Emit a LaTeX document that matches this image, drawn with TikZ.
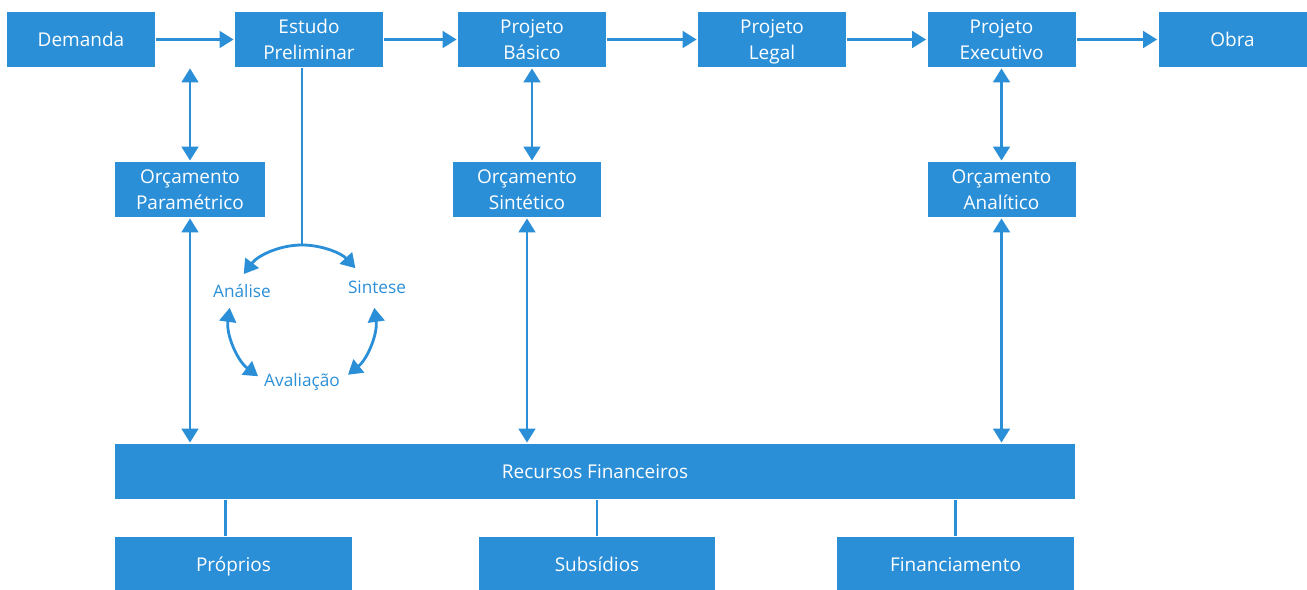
\documentclass[tikz,border=0pt]{standalone}
\usepackage{fontspec}
\setmainfont{Open Sans}
\usetikzlibrary{arrows.meta,positioning,calc}
\definecolor{azul}{HTML}{2B8FD8}
\newcommand{\lin}[1]{\rule[-3.25pt]{0pt}{14.5pt}#1}

\begin{document}
\begin{tikzpicture}[x=0.02cm, y=0.02cm, >={Triangle[length=8pt,width=9.5pt]},
       line width=1.6pt, draw=azul,
       caixa/.style={fill=azul, text=white, minimum width=2.96cm, minimum height=1.1cm,
                     inner sep=0pt, align=center, font=\fontsize{10.8}{14.5}\selectfont},
       rotulo/.style={text=azul, inner sep=1pt, font=\fontsize{9.8}{12}\selectfont}]
      \useasboundingbox (0,0) rectangle (1307,-590);
      \clip (0,0) rectangle (1307,-590);
      % etapas
      \node[caixa] (dem) at (81, -39.5)    {\lin{Demanda}};
      \node[caixa] (est) at (309, -39.5)   {\lin{Estudo}\\\lin{Preliminar}};
      \node[caixa] (bas) at (532, -39.5)   {\lin{Projeto}\\\lin{Básico}};
      \node[caixa] (leg) at (772, -39.5)   {\lin{Projeto}\\\lin{Legal}};
      \node[caixa] (exe) at (1001.5, -39.5) {\lin{Projeto}\\\lin{Executivo}};
      \node[caixa] (obr) at (1232.5, -39.5) {\lin{Obra}};
      % orcamentos
      \node[caixa, minimum width=3cm] (opar) at (190, -189.5)  {\lin{Orçamento}\\\lin{Paramétrico}};
      \node[caixa] (osin) at (527, -189.5)  {\lin{Orçamento}\\\lin{Sintético}};
      \node[caixa] (oana) at (1001.5, -189.5) {\lin{Orçamento}\\\lin{Analítico}};
      % recursos
      \node[caixa, minimum width=19.2cm] (rec) at (595, -471.5) {\lin{Recursos Financeiros}};
      \node[caixa, minimum width=4.74cm] (pro) at (233.5, -564.5) {\lin{Próprios}};
      \node[caixa, minimum width=4.74cm] (sub) at (597, -564.5)   {\lin{Subsídios}};
      \node[caixa, minimum width=4.74cm] (fin) at (955.5, -564.5) {\lin{Financiamento}};

      \draw[->] (dem) -- (est);
      \draw[->] (est) -- (bas);
      \draw[->] (bas) -- (leg);
      \draw[->] (leg) -- (exe);
      \draw[->] (exe) -- (obr);

      \draw[<->] (opar.north) -- (opar.north |- dem.south);
      \draw[<->] (opar.south) -- (opar.south |- rec.north);
      \draw[<->] (bas.south) -- (bas.south |- osin.north);
      \draw[<->] (osin.south) -- (osin.south |- rec.north);
      \draw[<->] (exe.south) -- (exe.south |- oana.north);
      \draw[<->] (oana.south) -- (oana.south |- rec.north);

      \draw ([xshift=-4.5]pro.north) -- ([xshift=-4.5]pro.north |- rec.south);
      \draw (sub.north) -- (sub.north |- rec.south);
      \draw (fin.north) -- (fin.north |- rec.south);

      % ciclo do estudo preliminar
      \coordinate (cyc) at (302, -318);
      \coordinate (topo) at ($(cyc)+(90:73)$);
      \node[rotulo] (ana) at (242, -291) {Análise};
      \node[rotulo] (sin) at (377, -287) {Sintese};
      \node[rotulo] (ava) at (302, -382) {Avaliação};
      \draw (est.south -| topo) -- (topo);
      \draw[->] (topo) arc[start angle=90, end angle=143, radius=73];
      \draw[->] (topo) arc[start angle=90, end angle=43, radius=73];
      \draw[<->] ($(cyc)+(172:73)$) arc[start angle=172, end angle=233, radius=73];
      \draw[<->] ($(cyc)+(8:73)$) arc[start angle=8, end angle=-51, radius=73];
\end{tikzpicture}
\end{document}
